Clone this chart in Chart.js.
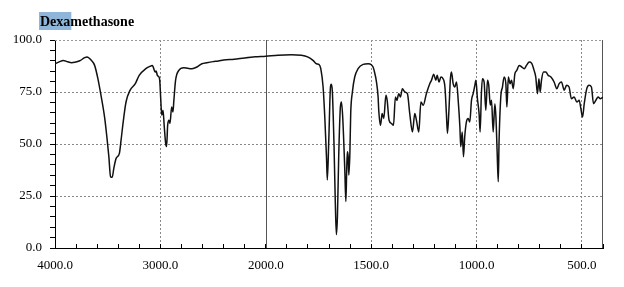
<!DOCTYPE html>
<html>
<head>
<meta charset="utf-8">
<script src="https://cdn.jsdelivr.net/npm/chart.js@4.4.1/dist/chart.umd.min.js"></script>
<style>
  body { margin: 0; background: #fff; }
  #wrap { width: 624px; height: 287px; }
</style>
</head>
<body>
<div id="wrap"><canvas id="irChart"></canvas></div>
<script>
// wavenumber (cm-1) and transmittance (%T)
var wavenumbers = [
  4000, 3960, 3922, 3880, 3843, 3812, 3765, 3718, 3696, 3655, 3624, 3593, 3561, 3530, 3508,
  3489, 3473, 3457, 3442, 3420, 3389, 3373, 3351, 3326, 3288, 3238, 3201, 3138, 3100, 3076,
  3066, 3050, 3040, 3029, 3013, 3006, 2997, 2987, 2975, 2963, 2950, 2941, 2931, 2919, 2909,
  2893, 2881, 2872, 2856, 2825, 2778, 2740, 2700, 2653, 2606, 2559, 2500, 2449, 2400, 2300,
  2200, 2100, 2000, 1942, 1878, 1831, 1799, 1776, 1760, 1748, 1739, 1728, 1720, 1712, 1708,
  1701, 1693, 1689, 1684, 1676, 1670, 1665, 1660, 1654, 1646, 1641, 1635, 1625, 1620, 1616,
  1613, 1609, 1606, 1601, 1597, 1589, 1578, 1562, 1538, 1514, 1499, 1491, 1486, 1475, 1467,
  1464, 1456, 1451, 1448, 1440, 1430, 1424, 1415, 1404, 1394, 1385, 1378, 1369, 1361, 1352,
  1340, 1328, 1317, 1304, 1293, 1285, 1274, 1264, 1253, 1238, 1222, 1214, 1203, 1193, 1187,
  1178, 1169, 1159, 1150, 1143, 1138, 1131, 1124, 1119, 1111, 1103, 1095, 1087, 1079, 1075,
  1068, 1062, 1056, 1048, 1040, 1032, 1024, 1016, 1008, 1003, 996, 988, 983, 977, 972,
  964, 956, 948, 942, 935, 929, 921, 913, 908, 902, 897, 893, 885, 877, 869,
  861, 856, 849, 841, 834, 826, 818, 809, 798, 785, 774, 763, 750, 739, 727,
  719, 711, 704, 698, 692, 682, 671, 660, 647, 632, 619, 608, 597, 584, 573,
  561, 550, 537, 524, 513, 505, 497, 489, 477, 466, 455, 445, 434, 423, 414, 400
];
var transmittance = [
  88.6, 89.5, 90.2, 89.5, 89.1, 89.3, 90.0, 91.5, 91.8, 90.2, 87.8, 81.4, 72.6, 63.0, 53.5,
  43.9, 34.3, 34.0, 38.3, 43.1, 45.5, 51.9, 61.4, 70.2, 75.8, 79.0, 83.0, 86.2, 87.3, 87.8,
  86.7, 84.6, 85.1, 83.0, 82.2, 80.6, 72.0, 63.8, 66.2, 58.2, 50.3, 48.8, 59.0, 61.4, 59.9,
  67.8, 65.4, 71.0, 80.6, 85.4, 86.7, 86.4, 86.2, 87.0, 88.6, 89.1, 89.6, 89.9, 90.4, 90.8,
  91.4, 91.9, 92.2, 92.7, 92.9, 92.7, 91.8, 90.2, 88.6, 88.3, 86.2, 77.4, 63.0, 43.9, 32.7,
  51.9, 77.4, 78.7, 75.0, 48.7, 21.6, 6.4, 15.1, 43.9, 67.8, 70.2, 63.0, 37.5, 22.3, 37.5,
  46.3, 43.9, 35.1, 45.5, 64.7, 75.0, 82.2, 86.2, 88.3, 88.6, 88.1, 87.0, 85.4, 80.0, 72.6,
  66.2, 59.0, 62.3, 64.7, 62.3, 73.4, 71.0, 61.4, 59.9, 59.0, 72.6, 71.0, 74.2, 72.6, 76.6,
  75.0, 74.2, 64.7, 55.8, 64.7, 61.4, 55.8, 70.2, 68.6, 74.2, 79.0, 80.6, 83.5, 80.6, 83.0,
  79.8, 82.2, 81.4, 77.4, 64.7, 55.1, 66.2, 81.4, 84.6, 79.0, 77.4, 79.8, 71.0, 58.2, 48.7,
  55.8, 43.9, 53.5, 60.6, 62.3, 60.6, 71.0, 74.2, 78.2, 80.6, 72.0, 64.7, 55.8, 74.2, 81.4,
  79.8, 66.2, 80.6, 78.2, 68.6, 71.0, 55.8, 69.4, 63.0, 45.5, 31.9, 51.9, 72.6, 77.4, 82.2,
  79.0, 67.8, 82.2, 79.0, 80.6, 76.6, 83.8, 85.4, 87.8, 87.0, 86.2, 87.8, 89.4, 88.9, 85.4,
  82.2, 74.2, 81.4, 75.0, 80.6, 84.6, 84.6, 83.0, 82.2, 79.8, 76.6, 79.0, 79.8, 75.8, 78.2,
  77.4, 71.8, 72.6, 70.2, 71.0, 67.0, 63.0, 69.4, 76.6, 78.2, 77.4, 69.4, 71.0, 72.6, 71.8, 72.5
];
var xLabels = [4000, 3000, 2000, 1500, 1000, 500];
var yLabels = [0, 25, 50, 75, 100];

// the spectrometer halves the scale above 2000 cm-1
function toT(v) { return v <= 2000 ? v : 2000 + (v - 2000) / 2; }
function fromT(t) { return t <= 2000 ? t : 2000 + (t - 2000) * 2; }

class BrokenScale extends Chart.LinearScale {
  buildTicks() {
    var ticks = [];
    for (var t = toT(this.max); t >= toT(this.min); t -= 100) {
      ticks.push({ value: fromT(t) });
    }
    return ticks;
  }
  getPixelForValue(value) {
    var a = toT(this.min), b = toT(this.max);
    return this.getPixelForDecimal((toT(value) - a) / (b - a));
  }
  getValueForPixel(pixel) {
    var a = toT(this.min), b = toT(this.max);
    return fromT(a + this.getDecimalForPixel(pixel) * (b - a));
  }
}
BrokenScale.id = 'broken';
BrokenScale.defaults = Chart.LinearScale.defaults;
Chart.register(BrokenScale);

var frame = {
  id: 'frame',
  beforeDatasetsDraw: function(chart) {
    var ctx = chart.ctx, a = chart.chartArea;
    var x2000 = Math.round(chart.scales.x.getPixelForValue(2000)) + 0.5;
    ctx.save();
    ctx.lineWidth = 1;
    ctx.strokeStyle = '#999';
    ctx.setLineDash([2, 2]);
    ctx.beginPath();
    ctx.moveTo(a.left, a.top + 0.5);
    ctx.lineTo(a.right, a.top + 0.5);
    ctx.stroke();
    ctx.setLineDash([]);
    ctx.strokeStyle = '#555';
    ctx.beginPath();
    ctx.moveTo(x2000, a.top);
    ctx.lineTo(x2000, a.bottom);
    ctx.moveTo(a.right - 0.5, a.top);
    ctx.lineTo(a.right - 0.5, a.bottom);
    ctx.stroke();
    ctx.restore();
  },
  afterDraw: function(chart) {
    var ctx = chart.ctx;
    ctx.save();
    ctx.font = 'bold 14px "Liberation Serif"';
    var w = ctx.measureText('Dexa').width;
    ctx.fillStyle = '#8fb5d8';
    ctx.fillRect(39, 12, w + 2, 18);
    ctx.fillStyle = '#000';
    ctx.textBaseline = 'alphabetic';
    ctx.fillText('Dexamethasone', 40, 26);
    ctx.restore();
  }
};

var points = wavenumbers.map(function(w, i) { return { x: w, y: transmittance[i] }; });

new Chart(document.getElementById('irChart'), {
  type: 'line',
  data: {
    datasets: [{
      label: 'Dexamethasone',
      data: points,
      borderColor: '#111',
      borderWidth: 1.5,
      pointRadius: 0,
      cubicInterpolationMode: 'monotone',
      fill: false
    }]
  },
  options: {
    responsive: true,
    maintainAspectRatio: false,
    animation: false,
    layout: { padding: { top: 40, right: 21, left: 0, bottom: 0 } },
    plugins: { legend: { display: false }, tooltip: { enabled: false } },
    scales: {
      x: {
        type: 'broken',
        min: 400,
        max: 4000,
        reverse: true,
        afterFit: function(s) { s.height = 39; },
        border: { color: '#000', width: 1, dash: [2, 2] },
        grid: {
          color: function(c) {
            return c.tick && [3000, 1500, 1000, 500].indexOf(c.tick.value) >= 0 ? '#888' : 'transparent';
          },
          tickColor: '#000',
          tickLength: -4
        },
        ticks: {
          autoSkip: false,
          maxRotation: 0,
          padding: 14,
          color: '#000',
          font: { family: '"Liberation Serif"', size: 13 },
          callback: function(v) { return xLabels.indexOf(v) >= 0 ? v.toFixed(1) : ''; }
        }
      },
      y: {
        min: 0,
        max: 100,
        afterFit: function(s) { s.width = 55; },
        border: { color: '#000', width: 1, dash: [2, 2] },
        grid: {
          color: function(c) {
            var v = c.tick ? c.tick.value : -1;
            return v > 0 && v < 100 && v % 25 === 0 ? '#888' : 'transparent';
          },
          tickColor: '#000',
          tickLength: 5
        },
        ticks: {
          stepSize: 5,
          autoSkip: false,
          padding: 8,
          color: '#000',
          font: { family: '"Liberation Serif"', size: 13 },
          callback: function(v) { return yLabels.indexOf(v) >= 0 ? v.toFixed(1) : ''; }
        }
      }
    }
  },
  plugins: [frame]
});
</script>
</body>
</html>
